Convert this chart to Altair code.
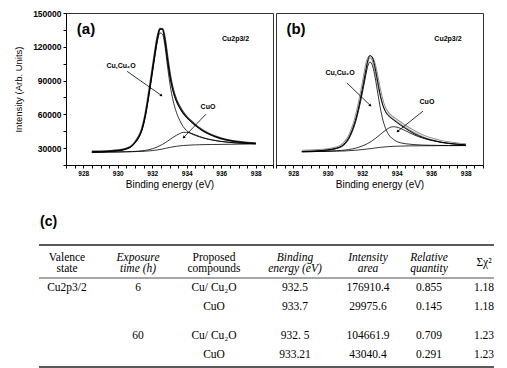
import altair as alt
import pandas as pd

# ---------------- data (intensities in thousands of counts) ----------------
energy = [928.5, 929.0, 929.5, 930.0, 930.5, 930.8, 931.0, 931.2, 931.4, 931.6, 931.8, 932.0,
          932.15, 932.3, 932.45, 932.6, 932.75, 932.9, 933.05, 933.2, 933.4, 933.6, 933.8,
          934.0, 934.25, 934.5, 934.75, 935.0, 935.5, 936.0, 936.5, 937.0, 937.5, 938.0]

a_data = [27.0, 27.1, 27.4, 28.0, 29.6, 31.9, 35.2, 39.8, 47.0, 60.0, 78.5, 99.0, 114.5, 128.5,
          136.0, 135.8, 125.5, 108.5, 93.5, 82.5, 72.8, 66.5, 61.5, 57.8, 54.0, 50.6, 47.6, 45.0,
          41.3, 38.6, 36.8, 35.6, 34.8, 34.3]
a_fit = [26.5, 26.7, 27.1, 27.8, 29.4, 31.6, 34.9, 39.3, 46.3, 59.2, 77.5, 98.0, 113.4, 127.8,
         135.7, 135.3, 124.2, 107.0, 92.0, 81.1, 71.6, 65.4, 60.6, 57.0, 53.4, 50.1, 47.2, 44.7,
         41.1, 38.5, 36.7, 35.5, 34.7, 34.2]
a_cu = [26.5, 26.7, 27.1, 27.8, 29.3, 31.5, 34.7, 39.0, 45.8, 58.5, 76.4, 96.4, 111.3, 125.1,
        132.3, 131.1, 119.1, 100.9, 84.8, 72.7, 61.8, 54.4, 48.9, 45.5, 42.9, 41.2, 39.9, 38.8,
        37.2, 35.9, 35.0, 34.4, 34.1, 34.0]
a_cuo = [26.3, 26.4, 26.5, 26.6, 26.8, 26.9, 27.1, 27.3, 27.6, 28.0, 28.6, 29.4, 30.2, 31.1,
         32.2, 33.4, 34.8, 36.3, 37.9, 39.5, 41.4, 43.0, 44.0, 44.0, 43.2, 41.8, 40.3, 39.0,
         37.1, 35.9, 35.1, 34.6, 34.2, 33.9]
a_bg = [26.3, 26.4, 26.5, 26.6, 26.7, 26.8, 26.9, 27.0, 27.1, 27.3, 27.5, 27.8, 28.1, 28.4,
        28.8, 29.2, 29.7, 30.2, 30.7, 31.1, 31.6, 32.0, 32.3, 32.5, 32.7, 32.9, 33.0, 33.1,
        33.2, 33.3, 33.4, 33.5, 33.6, 33.7]

b_data = [27.3, 27.5, 27.9, 28.7, 30.3, 32.3, 35.0, 39.3, 46.2, 55.6, 68.3, 83.3, 96.0, 107.5,
          111.0, 109.2, 101.5, 90.2, 78.9, 70.0, 63.0, 59.3, 56.8, 54.6, 52.0, 49.4, 47.0, 44.8,
          41.0, 38.3, 36.3, 34.8, 33.8, 33.0]
b_fit = [27.0, 27.2, 27.7, 28.5, 30.0, 31.9, 34.5, 38.7, 45.4, 54.5, 67.0, 82.0, 94.5, 106.4,
         112.3, 110.0, 100.9, 88.8, 76.9, 68.0, 61.0, 57.5, 55.2, 52.8, 50.1, 47.5, 45.1, 42.9,
         39.5, 37.2, 35.5, 34.3, 33.5, 32.9]
b_cu = [27.0, 27.2, 27.6, 28.3, 29.6, 31.3, 33.7, 37.7, 44.1, 52.7, 64.6, 78.8, 90.5, 101.6,
        106.5, 103.0, 92.5, 78.9, 65.4, 54.8, 45.8, 40.6, 37.8, 35.9, 34.6, 33.9, 33.5, 33.1,
        32.7, 32.5, 32.4, 32.3, 32.3, 32.3]
b_cuo = [26.8, 26.9, 27.1, 27.3, 27.7, 28.0, 28.3, 28.7, 29.2, 29.9, 30.8, 31.9, 32.9, 34.0,
         35.3, 36.8, 38.5, 40.3, 42.2, 44.1, 46.4, 48.3, 49.0, 48.6, 47.3, 45.5, 43.6, 41.8,
         38.9, 36.8, 35.3, 34.2, 33.4, 32.9]
b_bg = [26.8, 26.9, 27.0, 27.1, 27.3, 27.4, 27.5, 27.7, 27.9, 28.1, 28.4, 28.7, 28.9, 29.2,
        29.5, 29.8, 30.1, 30.4, 30.7, 30.9, 31.2, 31.4, 31.6, 31.7, 31.8, 31.9, 32.0, 32.0,
        32.1, 32.1, 32.2, 32.2, 32.2, 32.3]

# table (c)
header_top = ["Valence", "Exposure", "Proposed", "Binding", "Intensity", "Relative", ""]
header_bottom = ["state", "time (h)", "compounds", "energy (eV)", "area", "quantity", ""]
header_italic = [False, True, False, True, True, True, False]
valence = ["Cu2p3/2", "", "", ""]
exposure = ["6", "", "60", ""]
compounds = ["Cu/ Cu\u2082O", "CuO", "Cu/ Cu\u2082O", "CuO"]
binding = ["932.5", "933.7", "932. 5", "933.21"]
area = ["176910.4", "29975.6", "104661.9", "43040.4"]
relative = ["0.855", "0.145", "0.709", "0.291"]
chi2 = ["1.18", "1.18", "1.23", "1.23"]

# ---------------- layout / style constants ----------------
AX_FONT = "Liberation Sans"
SERIF = "Liberation Serif"
PW, PH = 207, 152
# table column centres, px relative to the left edge of panel (a)
col_centers = [1, 72, 148, 229, 302, 363, 418]
row_pos = [3.0, 4.9, 7.8, 9.7]
x_ticks = [927 + 0.5 * i for i in range(25)]
y_ticks = [15000 * i for i in range(1, 11)]

xscale = alt.Scale(domain=[927, 939], nice=False, zero=False)
yscale = alt.Scale(domain=[15000, 150000], nice=False, zero=False)

XAXIS = alt.Axis(title="Binding energy (eV)", values=x_ticks,
                 labelExpr="datum.value % 2 == 0 ? format(datum.value, 'd') : ''",
                 labelOverlap=False, grid=False, tickSize=3, labelFontSize=6.5,
                 labelFontWeight="bold", titleFontSize=10, titleFontWeight="normal",
                 titlePadding=3, labelPadding=2, domainColor="black", tickColor="black",
                 labelColor="black", titleColor="black", labelFont=AX_FONT, titleFont=AX_FONT)
YAXIS = alt.Axis(title="Intensity (Arb. Units)", values=y_ticks,
                 labelExpr="datum.value % 30000 == 0 ? format(datum.value, 'd') : ''",
                 labelOverlap=False, grid=False, tickSize=3, labelFontSize=8.5,
                 labelFontWeight="bold", titleFontSize=9.5, titleFontWeight="normal",
                 titlePadding=9, labelPadding=2, domainColor="black", tickColor="black",
                 labelColor="black", titleColor="black", labelFont=AX_FONT, titleFont=AX_FONT)


def enc(chart, left_axis, xf="E:Q", yf="I:Q"):
    return chart.encode(
        x=alt.X(xf, scale=xscale, axis=XAXIS),
        y=alt.Y(yf, scale=yscale, axis=YAXIS if left_axis else None),
    )


def series_df(vals):
    return pd.DataFrame({"E": energy, "I": [v * 1000 for v in vals]})


def panel(tag, data, fit, cu, cuo, bg, ann, left_axis, hollow):
    def line(vals, color="black", width=1.0):
        return enc(alt.Chart(series_df(vals)).mark_line(
            color=color, strokeWidth=width, interpolate="monotone"), left_axis)

    layers = []
    if hollow:
        layers.append(line(data, color="#8c8c8c", width=2.8))
        layers.append(line(data, color="white", width=0.9))
    else:
        layers.append(line(data, color="#3a3a3a", width=2.0))
    layers.append(line(fit, color="black", width=1.0))
    layers.append(line(cu, color="black", width=0.8))
    layers.append(line(cuo, color="black", width=0.8))
    layers.append(line(bg, color="black", width=0.8))

    tag_df = pd.DataFrame({"E": [ann["tag"][0]], "I": [ann["tag"][1]], "t": [tag]})
    layers.append(enc(alt.Chart(tag_df).mark_text(font=AX_FONT, fontSize=15, fontWeight="bold",
                                                  align="center", baseline="middle",
                                                  color="black"), left_axis).encode(text="t:N"))
    lab_df = pd.DataFrame({"E": [p[0] for p in ann["labels"]], "I": [p[1] for p in ann["labels"]],
                           "t": [p[2] for p in ann["labels"]]})
    layers.append(enc(alt.Chart(lab_df).mark_text(font=AX_FONT, fontSize=7, fontWeight="bold",
                                                  align="center", baseline="middle",
                                                  color="black"), left_axis).encode(text="t:N"))
    arr_df = pd.DataFrame({"E": [a[0] for a in ann["arrows"]], "I": [a[1] for a in ann["arrows"]],
                           "E2": [a[2] for a in ann["arrows"]], "I2": [a[3] for a in ann["arrows"]],
                           "ang": [a[4] for a in ann["arrows"]]})
    layers.append(enc(alt.Chart(arr_df).mark_rule(color="black", strokeWidth=0.8),
                      left_axis).encode(x2="E2:Q", y2="I2:Q"))
    layers.append(enc(alt.Chart(arr_df).mark_point(shape="triangle", filled=True, size=10,
                                                   color="black", opacity=1),
                      left_axis, "E2:Q", "I2:Q").encode(angle=alt.Angle("ang:Q", scale=None)))
    return alt.layer(*layers).properties(width=PW, height=PH,
                                         view=alt.ViewBackground(stroke="#333333", strokeWidth=1))


ann_a = {"tag": (928.16, 135500),
         "labels": [(936.83, 126700, "Cu2p3/2"), (930.19, 103000, "Cu,Cu\u2082O"),
                    (935.23, 66400, "CuO")],
         "arrows": [(930.54, 98200, 932.51, 77000, 126), (935.12, 60200, 933.84, 39800, 224)]}
ann_b = {"tag": (928.16, 135500),
         "labels": [(936.97, 126700, "Cu2p3/2"), (930.71, 96600, "Cu,Cu\u2082O"),
                    (935.75, 70800, "CuO")],
         "arrows": [(931.12, 87800, 932.45, 68100, 132), (935.52, 62800, 934.07, 45100, 231)]}

pa = panel("(a)", a_data, a_fit, a_cu, a_cuo, a_bg, ann_a, True, False)
pb = panel("(b)", b_data, b_fit, b_cu, b_cuo, b_bg, ann_b, False, True)
top = alt.hconcat(pa, pb, spacing=1)

# ---------------- table ----------------
TW, TH = 430, 155
tx = alt.Scale(domain=[0, TW], nice=False, zero=False)
ty = alt.Scale(domain=[-4.5, 11.0], nice=False, zero=False, reverse=True)

rows = []
for i in range(7):
    if header_top[i]:
        rows.append({"x": col_centers[i], "y": 0.0, "t": header_top[i], "it": header_italic[i]})
        rows.append({"x": col_centers[i], "y": 1.05, "t": header_bottom[i], "it": header_italic[i]})
rows.append({"x": col_centers[6], "y": 0.5, "t": "\u03a3\u03c7\u00b2", "it": False})
body_cols = [valence, exposure, compounds, binding, area, relative, chi2]
for ci, col in enumerate(body_cols):
    for ri, val in enumerate(col):
        if val:
            rows.append({"x": col_centers[ci], "y": row_pos[ri], "t": val, "it": False})
tdf = pd.DataFrame(rows)


def tenc(ch):
    return ch.encode(x=alt.X("x:Q", scale=tx, axis=None), y=alt.Y("y:Q", scale=ty, axis=None))


txt_norm = tenc(alt.Chart(tdf[~tdf["it"]]).mark_text(
    font=SERIF, fontSize=11.5, color="black", align="center", baseline="middle")).encode(text="t:N")
txt_it = tenc(alt.Chart(tdf[tdf["it"]]).mark_text(
    font=SERIF, fontSize=11.5, fontStyle="italic", color="black", align="center",
    baseline="middle")).encode(text="t:N")
rules_df = pd.DataFrame({"x": [-27, -27, -27], "x2": [428, 428, 428], "y": [-1.3, 2.0, 10.9],
                         "w": [1.6, 0.8, 1.6]})
rules = tenc(alt.Chart(rules_df).mark_rule(color="#222222")).encode(
    x2="x2:Q", strokeWidth=alt.StrokeWidth("w:Q", scale=None))
c_df = pd.DataFrame({"x": [-26], "y": [-3.6], "t": ["(c)"]})
c_lab = tenc(alt.Chart(c_df).mark_text(font=AX_FONT, fontSize=14, fontWeight="bold",
                                       color="black", align="left",
                                       baseline="middle")).encode(text="t:N")
table = alt.layer(rules, txt_norm, txt_it, c_lab).properties(
    width=TW, height=TH, view=alt.ViewBackground(stroke="transparent"))

chart = alt.vconcat(top, table, spacing=22).properties(
    padding={"left": 5, "top": 0, "right": 0, "bottom": 0}
).configure(background="white")

chart.save("out.html", embed_options={"renderer": "svg", "actions": False})
